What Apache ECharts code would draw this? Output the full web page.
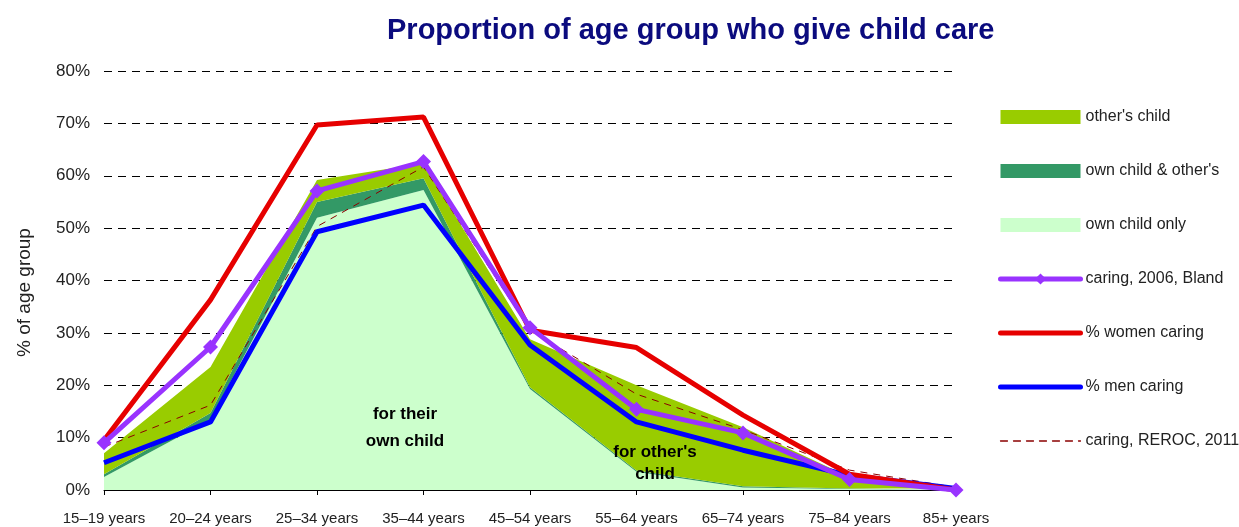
<!DOCTYPE html>
<html>
<head>
    <meta charset="utf-8">
    <title>child care</title>
    <script src="https://cdn.jsdelivr.net/npm/echarts@6/dist/echarts.min.js"></script>
</head>
<body style="margin:0;background:#fff;">
    <div id="main" style="width:1239px;height:527px;"></div>
    <script type="text/javascript">
        // age groups
        var ageGroups = ['15–19 years', '20–24 years', '25–34 years', '35–44 years', '45–54 years',
                         '55–64 years', '65–74 years', '75–84 years', '85+ years'];

        // stacked bands (% of age group)
        var ownOnly   = [2.5, 13.4, 52.0, 57.3, 19.3, 3.5, 0.5, 0.2, 0];
        var ownAndOth = [0.5, 1.3, 3.0, 2.2, 0.3, 0.2, 0.2, 0.1, 0];
        var othersOnly = [4.0, 8.8, 4.2, 2.9, 9.2, 16.3, 11.3, 2.2, 0.3];

        // lines
        var bland2006 = [9.0, 27.3, 57.1, 62.7, 31.0, 15.4, 10.9, 2.0, 0];
        var women     = [9.5, 36.3, 69.7, 71.2, 30.5, 27.2, 14.3, 3.0, 0];
        var men       = [5.2, 13.0, 49.3, 54.4, 27.7, 13.0, 7.6, 2.8, 0.3];
        var reroc2011 = [8.2, 16.2, 50.3, 61.7, 30.5, 18.3, 11.5, 3.8, 0.5];

        var yTicks = [0, 10, 20, 30, 40, 50, 60, 70, 80];

        var font = 'Liberation Sans, Arial, sans-serif';
        var myChart = echarts.init(document.getElementById('main'));

        function band(name, data, color) {
            return {
                name: name, type: 'line', stack: 'care', data: data,
                symbol: 'none', lineStyle: { width: 0 }, itemStyle: { color: color },
                areaStyle: { color: color, opacity: 1 }, z: 1
            };
        }

        // legend entry for a plain line (hide the symbol)
        function lineItem(name, width, type) {
            return {
                name: name,
                itemStyle: { opacity: 0 },
                lineStyle: { width: width, type: type || 'solid', cap: 'round' }
            };
        }

        var option = {
            animation: false,
            textStyle: { fontFamily: font },
            title: {
                text: 'Proportion of age group who give child care',
                left: 382, top: 11,
                textStyle: { color: '#0b0b7e', fontSize: 29, fontWeight: 'bold', fontFamily: font }
            },
            legend: {
                orient: 'vertical', left: 993, top: 104,
                itemWidth: 80, itemHeight: 14, itemGap: 38,
                textStyle: { fontSize: 16, color: '#222', fontFamily: font },
                data: [
                    { name: "other's child", icon: 'rect' },
                    { name: "own child & other's", icon: 'rect' },
                    { name: 'own child only', icon: 'rect' },
                    { name: 'caring, 2006, Bland', lineStyle: { width: 5, cap: 'round' } },
                    lineItem('% women caring', 5),
                    lineItem('% men caring', 5),
                    lineItem('caring, REROC, 2011', 1.3, [7, 6])
                ]
            },
            grid: { left: 104, right: 283, top: 71, bottom: 37 },
            xAxis: {
                type: 'category', boundaryGap: false, data: ageGroups,
                axisLine: { lineStyle: { color: '#000', width: 1 } },
                axisTick: { alignWithLabel: true, length: 5, lineStyle: { color: '#000' } },
                axisLabel: { fontSize: 15, color: '#222', margin: 21, interval: 0 }
            },
            yAxis: {
                type: 'value', min: yTicks[0], max: yTicks[yTicks.length - 1], interval: 10,
                name: '% of age group', nameLocation: 'middle', nameGap: 70,
                nameTextStyle: { fontSize: 19, color: '#222', padding: [0, 24, 0, 0] },
                axisLine: { show: false }, axisTick: { show: false },
                axisLabel: { formatter: '{value}%', fontSize: 17, color: '#222', margin: 14 },
                splitLine: { lineStyle: { color: '#000', type: [8, 6], width: 1 } }
            },
            graphic: [
                { type: 'text', left: 405 - 45, top: 401, z: 100,
                  style: { text: 'for their\nown child', font: 'bold 17px ' + font, fill: '#000', textAlign: 'center', lineHeight: 27, width: 90 } },
                { type: 'text', left: 655 - 50, top: 441, z: 100,
                  style: { text: "for other's\nchild", font: 'bold 17px ' + font, fill: '#000', textAlign: 'center', lineHeight: 22, width: 100 } }
            ],
            series: [
                band('own child only', ownOnly, '#ccffcc'),
                band("own child & other's", ownAndOth, '#339966'),
                band("other's child", othersOnly, '#99cc00'),
                {
                    name: 'caring, REROC, 2011', type: 'line', data: reroc2011, symbol: 'none',
                    lineStyle: { color: '#8b0000', width: 1, type: [7, 6] }, itemStyle: { color: '#8b0000' }, z: 3
                },
                {
                    name: '% men caring', type: 'line', data: men, symbol: 'none',
                    lineStyle: { color: '#0000ff', width: 5 }, itemStyle: { color: '#0000ff' }, z: 4
                },
                {
                    name: '% women caring', type: 'line', data: women, symbol: 'none',
                    lineStyle: { color: '#e60000', width: 5 }, itemStyle: { color: '#e60000' }, z: 5
                },
                {
                    name: 'caring, 2006, Bland', type: 'line', data: bland2006,
                    symbol: 'diamond', symbolSize: 15,
                    lineStyle: { color: '#9933ff', width: 5 }, itemStyle: { color: '#9933ff' }, z: 6
                }
            ]
        };
        myChart.setOption(option);
    </script>
</body>
</html>
